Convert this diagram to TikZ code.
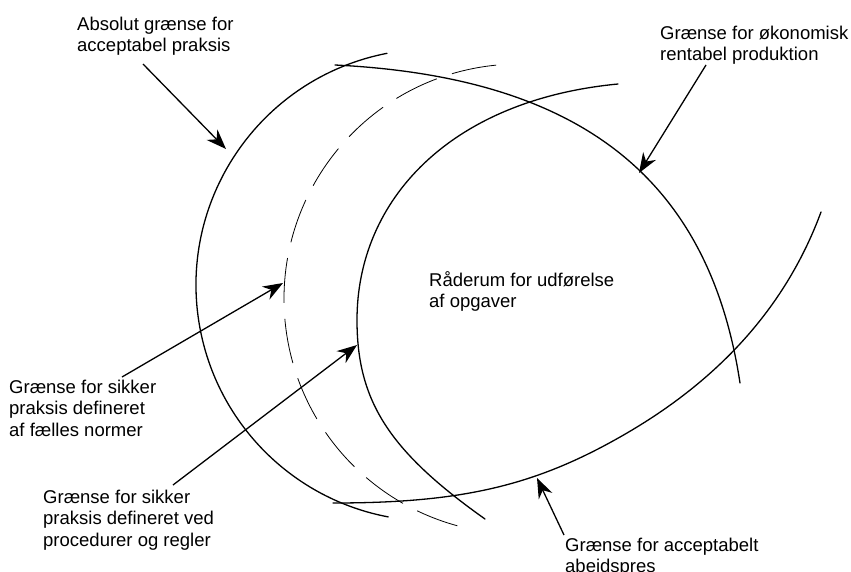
\documentclass[tikz,border=0pt]{standalone}
\usepackage{fontspec}
\setmainfont{Liberation Sans}
\usetikzlibrary{arrows.meta}
\begin{document}
\begin{tikzpicture}[x=1pt,y=-1pt,
  curve/.style={line width=1.3pt, line cap=round},
  dcurve/.style={line width=0.8pt, dash pattern=on 45pt off 16pt},
  arr/.style={line width=1.3pt, -{Stealth[length=20pt,width=15pt,inset=6.5pt]}},
  lbl/.style={anchor=base west, inner sep=0pt, font=\fontsize{18.5}{21.7}\selectfont}]
\useasboundingbox (0,0) rectangle (851,571);

% curves
\coordinate (cA) at (432,285);
\coordinate (cE) at (519,299);
\draw[curve] ([shift={(259:236)}]cA) arc[start angle=259, end angle=100.7, radius=236];
\draw[curve] (335,65) .. controls (580,77) and (709,178) .. (740,383);
\draw[curve] (618,84) .. controls (450,100) and (357,200) .. (357,320)
             .. controls (357,401) and (389,451) .. (485,519);
\draw[curve] (333,503) .. controls (463.5,503) and (537,485.5) .. (627,433)
             .. controls (722.6,377.2) and (787.2,303.6) .. (821,212);
\draw[dcurve] ([shift={(264.4:235)}]cE) arc[start angle=264.4, end angle=105.2, radius=235];

% labels
\node[lbl] (t1) at (77,30) {\begin{tabular}[t]{@{}l@{}}Absolut grænse for\\acceptabel praksis\end{tabular}};
\node[lbl] (t2) at (660,39) {\begin{tabular}[t]{@{}l@{}}Grænse for økonomisk\\rentabel produktion\end{tabular}};
\node[lbl] (t3) at (429,286) {\begin{tabular}[t]{@{}l@{}}Råderum for udførelse\\af opgaver\end{tabular}};
\node[lbl] (t4) at (9,393) {\begin{tabular}[t]{@{}l@{}}Grænse for sikker\\praksis defineret\\af fælles normer\end{tabular}};
\node[lbl] (t5) at (43,503) {\begin{tabular}[t]{@{}l@{}}Grænse for sikker\\praksis defineret ved\\procedurer og regler\end{tabular}};
\node[lbl] (t6) at (565,551) {\begin{tabular}[t]{@{}l@{}}Grænse for acceptabelt\\abeidspres\end{tabular}};

% arrow ends
\coordinate (s1) at (143,64);  \coordinate (e1) at (226,149);
\coordinate (s2) at (706,65);  \coordinate (e2) at (639,173);
\coordinate (s3) at (122,377); \coordinate (e3) at (283,283);
\coordinate (s4) at (173,485); \coordinate (e4) at (357,345);
\coordinate (s5) at (564,535); \coordinate (e5) at (537,478);

\draw[arr] (s1) -- (e1);
\draw[arr] (s2) -- (e2);
\draw[arr] (s3) -- (e3);
\draw[arr] (s4) -- (e4);
\draw[arr] (s5) -- (e5);
\end{tikzpicture}
\end{document}
